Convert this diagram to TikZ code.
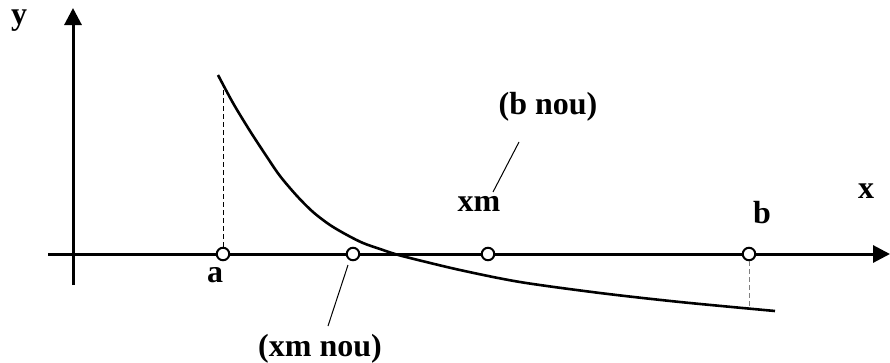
\documentclass[tikz,border=0pt]{standalone}
\usepackage{fontspec}
\setmainfont{Liberation Serif}
\usetikzlibrary{arrows.meta}
\begin{document}
\begin{tikzpicture}[x=1pt,y=-1pt]
	% Styles (MODIFIABLES)
	\tikzstyle{axe}=[line width=3pt,-{Triangle[length=17pt,width=17pt]}]
	\tikzstyle{courbe}=[line width=2.6pt]
	\tikzstyle{rappel}=[line width=1pt,dash pattern=on 5pt off 3pt]
	\tikzstyle{point}=[circle,draw,line width=2pt,fill=white,inner sep=0pt,minimum size=12.5pt]
	\tikzstyle{etiquette}=[font=\fontsize{32}{38}\selectfont\bfseries,inner sep=0pt]
	\tikzstyle{renvoi}=[line width=1pt]
	% Cadre
	\useasboundingbox (0,0) rectangle (890,362);
	% Dimensions (MODIFIABLES)
	\def\NiveauAxe{254}
	% Axes
	\coordinate (Ox) at (48,\NiveauAxe);
	\coordinate (Xf) at (890,\NiveauAxe);
	\coordinate (Oy) at (73,285);
	\coordinate (Yf) at (73,8);
	\draw[axe] (Ox)--(Xf);
	\draw[axe] (Oy)--(Yf);
	% Courbe
	\draw[courbe] plot[smooth] coordinates {(218,75) (233,103) (250,131) (267,157) (280,176) (297,196) (313,212) (330,225) (347,235) (363,243) (380,249) (395,254) (410,258) (460,270) (520,282) (600,293) (680,302) (775,311)};
	\coordinate (Ca) at (223,86);
	\coordinate (Cb) at (749,308);
	% Noeuds
	\node[point] (a) at (223,\NiveauAxe) {};
	\node[point] (xmn) at (353,\NiveauAxe) {};
	\node[point] (xm) at (488,\NiveauAxe) {};
	\node[point] (b) at (749,\NiveauAxe) {};
	\draw[rappel] (a.north)--(Ca);
	\draw[rappel,gray] (b.south)--(Cb);
	%
	\node[etiquette] (ly) at (19,21) {y};
	\node[etiquette] (lx) at (866,191) {x};
	\node[etiquette] (la) at (215,275) {a};
	\node[etiquette] (lb) at (762,213) {b};
	\node[etiquette] (lxm) at (479,204) {xm};
	\node[etiquette,anchor=base] (lbnou) at (548,114) {(b nou)};
	\node[etiquette,anchor=base] (lxmnou) at (320,356) {(xm nou)};
	% Renvois
	\coordinate (Ra) at (519,142);
	\coordinate (Rb) at (493,192);
	\coordinate (Rc) at (348,265);
	\coordinate (Rd) at (328,326);
	\draw[renvoi] (Ra)--(Rb);
	\draw[renvoi] (Rc)--(Rd);
\end{tikzpicture}
\end{document}
